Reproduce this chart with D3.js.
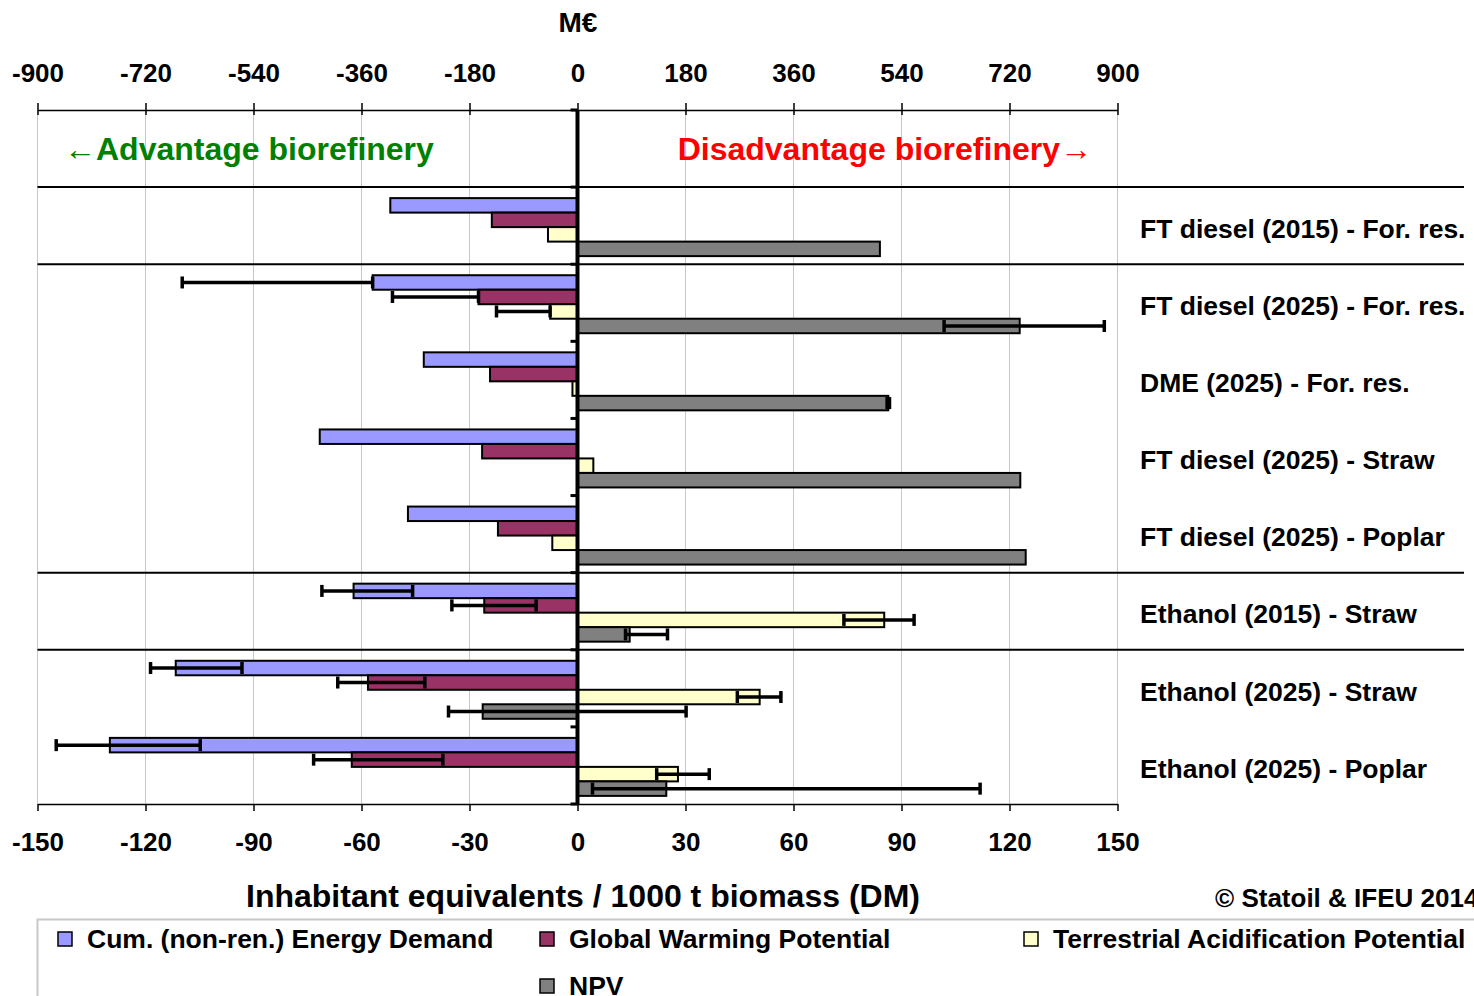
<!DOCTYPE html>
<html>
<head>
<meta charset="utf-8">
<script src="https://cdn.jsdelivr.net/npm/d3@7"></script>
<style>
  body { margin: 0; background: #fff; }
  text { font-family: Arial, 'Liberation Sans', sans-serif; font-weight: bold; }
</style>
</head>
<body>
<svg id="chart"></svg>
<script>
// categories (top to bottom)
var categories = [
  'FT diesel (2015) - For. res.',
  'FT diesel (2025) - For. res.',
  'DME (2025) - For. res.',
  'FT diesel (2025) - Straw',
  'FT diesel (2025) - Poplar',
  'Ethanol (2015) - Straw',
  'Ethanol (2025) - Straw',
  'Ethanol (2025) - Poplar'
];
var seriesNames = ['Cum. (non-ren.) Energy Demand', 'Global Warming Potential',
  'Terrestrial Acidification Potential', 'NPV'];

// inhabitant equivalents / 1000 t biomass
var cedValues = [-52, -56.9, -42.7, -71.6, -47.1, -62.2, -111.6, -129.9];
var gwpValues = [-23.8, -27.5, -24.3, -26.5, -22.1, -25.9, -58.2, -62.7];
var tapValues = [-8.2, -7.6, -1.4, 4.4, -7.0, 85.2, 50.6, 27.9];
// M€
var npvValues = [504, 737, 518, 738, 747, 87, -158, 148];

// error ranges [low, high], null where no bar
var cedErrors = [null, [-109.8, -56.9], null, null, null, [-71, -45.8], [-118.6, -93.2], [-144.8, -104.8]];
var gwpErrors = [null, [-51.4, -27.5], null, null, null, [-34.9, -11.5], [-66.6, -42.4], [-73.3, -37.4]];
var tapErrors = [null, [-22.5, -7.6], null, null, null, [74, 93.5], [44.4, 56.5], [22, 36.6]];
var npvErrors = [null, [611, 878], [516, 520], null, null, [80, 150], [-215, 181], [25, 671]];

var bottomTicks = [-150, -120, -90, -60, -30, 0, 30, 60, 90, 120, 150];
var topTicks = [-900, -720, -540, -360, -180, 0, 180, 360, 540, 720, 900];
var colors = ['#9999ff', '#993366', '#ffffcc', '#808080'];

var width = 1474;
var height = 996;

var svg = d3.select('#chart')
  .attr('width', width)
  .attr('height', height);

// scales
var x = d3.scaleLinear().domain([-150, 150]).range([37.5, 1117.5]);
var x2 = d3.scaleLinear().domain([-900, 900]).range([37.5, 1117.5]);
var y0 = d3.scaleBand().domain(['header'].concat(categories)).range([110, 804]);
var y1 = d3.scaleBand().domain(seriesNames).range([11, 69]);
var plotTop = 110, plotBottom = 804;

var series = [
  {name: seriesNames[0], color: colors[0], values: cedValues, errors: cedErrors, scale: x},
  {name: seriesNames[1], color: colors[1], values: gwpValues, errors: gwpErrors, scale: x},
  {name: seriesNames[2], color: colors[2], values: tapValues, errors: tapErrors, scale: x},
  {name: seriesNames[3], color: colors[3], values: npvValues, errors: npvErrors, scale: x2}
];

// gridlines
svg.append('g').selectAll('line')
  .data(bottomTicks)
  .enter().append('line')
  .attr('x1', function(d) { return x(d); })
  .attr('x2', function(d) { return x(d); })
  .attr('y1', plotTop)
  .attr('y2', plotBottom)
  .style('stroke', '#c8c8c8')
  .style('stroke-width', 1);

// group separators
var separators = [categories[0], categories[1], categories[5], categories[6]];
svg.append('g').selectAll('line')
  .data(separators)
  .enter().append('line')
  .attr('x1', x(-150))
  .attr('x2', 1464)
  .attr('y1', function(d) { return y0(d); })
  .attr('y2', function(d) { return y0(d); })
  .style('stroke', '#000')
  .style('stroke-width', 2);

// bars
series.forEach(function(s) {
  var rows = categories.map(function(c, i) {
    return {cat: c, value: s.values[i], err: s.errors[i]};
  });
  var g = svg.append('g');
  g.selectAll('rect')
    .data(rows)
    .enter().append('rect')
    .attr('x', function(d) { return s.scale(Math.min(0, d.value)); })
    .attr('width', function(d) { return Math.abs(s.scale(d.value) - s.scale(0)); })
    .attr('y', function(d) { return y0(d.cat) + y1(s.name); })
    .attr('height', y1.bandwidth())
    .style('fill', s.color)
    .style('stroke', '#000')
    .style('stroke-width', 2);
});

// error bars
series.forEach(function(s) {
  var rows = categories.map(function(c, i) {
    return {cat: c, err: s.errors[i]};
  }).filter(function(d) { return d.err; });
  var g = svg.append('g');
  var cy = function(d) { return y0(d.cat) + y1(s.name) + y1.bandwidth() / 2; };
  g.selectAll('line.err')
    .data(rows)
    .enter().append('line')
    .attr('x1', function(d) { return s.scale(d.err[0]); })
    .attr('x2', function(d) { return s.scale(d.err[1]); })
    .attr('y1', cy)
    .attr('y2', cy)
    .style('stroke', '#000')
    .style('stroke-width', 3.5);
  [0, 1].forEach(function(k) {
    g.selectAll('line.cap' + k)
      .data(rows)
      .enter().append('line')
      .attr('x1', function(d) { return s.scale(d.err[k]); })
      .attr('x2', function(d) { return s.scale(d.err[k]); })
      .attr('y1', function(d) { return cy(d) - 6; })
      .attr('y2', function(d) { return cy(d) + 6; })
      .style('stroke', '#000')
      .style('stroke-width', 3.5);
  });
});

// zero axis with category ticks
svg.append('line')
  .attr('x1', x(0)).attr('x2', x(0))
  .attr('y1', plotTop).attr('y2', plotBottom)
  .style('stroke', '#000')
  .style('stroke-width', 4);
svg.append('g').selectAll('line')
  .data(y0.domain().map(function(d) { return y0(d); }).concat([plotBottom]))
  .enter().append('line')
  .attr('x1', x(0) - 7).attr('x2', x(0))
  .attr('y1', function(d) { return d; })
  .attr('y2', function(d) { return d; })
  .style('stroke', '#000')
  .style('stroke-width', 3);

// plain hyphen for negative numbers, like the original
var plainFormat = function(d) { return String(d); };

// bottom axis
var bottomAxis = svg.append('g')
  .attr('transform', 'translate(0,' + plotBottom + ')')
  .call(d3.axisBottom(x).tickValues(bottomTicks).tickFormat(plainFormat)
    .tickSize(7).tickPadding(22).tickSizeOuter(0));
// top axis (M€)
var topAxis = svg.append('g')
  .attr('transform', 'translate(0,' + plotTop + ')')
  .call(d3.axisTop(x2).tickValues(topTicks).tickFormat(plainFormat)
    .tickSize(7).tickPadding(21).tickSizeOuter(0));
[bottomAxis, topAxis].forEach(function(a) {
  a.select('.domain').style('stroke', '#000').style('stroke-width', 1.5);
  a.selectAll('.tick line').style('stroke', '#000').style('stroke-width', 1.5);
  a.selectAll('.tick text')
    .style('font-size', '26px')
    .style('font-family', 'Arial, "Liberation Sans", sans-serif')
    .style('font-weight', 'bold')
    .style('fill', '#000');
});
topAxis.selectAll('.tick').append('line')
  .attr('y1', 0).attr('y2', 5)
  .style('stroke', '#000').style('stroke-width', 1.5);

// category labels
svg.append('g').selectAll('text')
  .data(categories)
  .enter().append('text')
  .attr('x', 1140)
  .attr('y', function(d) { return y0(d) + y0.bandwidth() / 2 + 3; })
  .attr('dy', '0.35em')
  .style('font-size', '26.5px')
  .text(function(d) { return d; });

// header texts
svg.append('text')
  .attr('x', 64)
  .attr('y', y0('header') + y0.bandwidth() / 2)
  .attr('dy', '0.35em')
  .style('font-size', '32px')
  .style('fill', '#008000')
  .text('\u2190Advantage biorefinery');
svg.append('text')
  .attr('x', 1092)
  .attr('y', y0('header') + y0.bandwidth() / 2)
  .attr('dy', '0.35em')
  .attr('text-anchor', 'end')
  .style('font-size', '32px')
  .style('fill', '#ff0000')
  .text('Disadvantage biorefinery\u2192');

svg.append('text')
  .attr('x', 578)
  .attr('y', 32)
  .attr('text-anchor', 'middle')
  .style('font-size', '28px')
  .text('M\u20ac');

// axis title
svg.append('text')
  .attr('x', 583)
  .attr('y', 907)
  .attr('text-anchor', 'middle')
  .style('font-size', '32px')
  .text('Inhabitant equivalents / 1000 t biomass (DM)');
svg.append('text')
  .attr('x', 1215)
  .attr('y', 907)
  .style('font-size', '26px')
  .text('\u00a9 Statoil & IFEU 2014');

// legend
var legend = svg.append('g');
legend.append('rect')
  .attr('x', 37.5).attr('y', 919.5)
  .attr('width', 1460).attr('height', 100)
  .style('fill', 'none')
  .style('stroke', '#c8c8c8')
  .style('stroke-width', 2);
var legendPos = [[58, 932], [540, 932], [1024, 932], [540, 979]];
series.forEach(function(s, i) {
  var p = legendPos[i];
  legend.append('rect')
    .attr('x', p[0]).attr('y', p[1])
    .attr('width', 14).attr('height', 14)
    .style('fill', s.color)
    .style('stroke', '#000')
    .style('stroke-width', 1.5);
  legend.append('text')
    .attr('x', p[0] + 29)
    .attr('y', p[1] + 7)
    .attr('dy', '0.35em')
    .style('font-size', '26.5px')
    .text(s.name);
});
</script>
</body>
</html>
